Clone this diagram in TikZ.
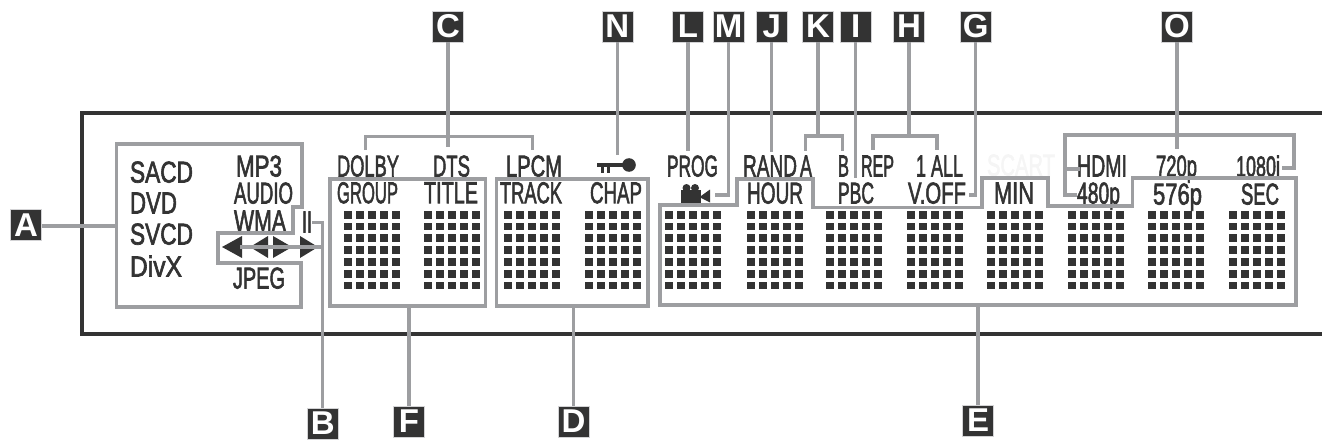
\documentclass[tikz,border=0pt]{standalone}
\usepackage{fontspec}
\setmainfont{Liberation Sans}
\newfontfamily\lcdface[FakeBold=2.4]{Liberation Sans}
\definecolor{ink}{HTML}{333333}
\definecolor{lead}{HTML}{9D9EA1}
\tikzset{
  panelline/.style={draw=ink,line width=3.6pt},
  guide/.style={draw=lead,line width=3.2pt,line join=miter},
  tagbox/.style={fill=ink,draw=lead!45,line width=0.6pt,minimum width=31pt,minimum height=31pt,inner sep=0pt,text=white,font=\bfseries\fontsize{33}{33}\selectfont},
  lcd/.style={inner sep=0pt,anchor=base,text=ink,font=\lcdface\fontsize{28}{28}\selectfont},
}
\newcommand{\lcdtext}[6][ink]{%
  \pgfmathsetmacro{\lcdw}{#4-#3}\pgfmathsetmacro{\lcdx}{(#3+#4)/2}\pgfmathsetmacro{\lcdy}{#5+10.5}%
  \node[lcd,text=#1] (#2) at (\lcdx,\lcdy) {\resizebox{\lcdw pt}{21pt}{#6}};}
\newcommand{\dotblock}[1]{%
  \foreach \ci in {0,...,4}{\foreach \ri in {0,...,6}{%
    \fill[ink] ({#1+\ci*12},{210.7+\ri*11.8}) rectangle +(7.8,7.8);}}}
\begin{document}
\begin{tikzpicture}[x=1pt,y=-1pt]
\useasboundingbox (0,0) rectangle (1322,441);
% display frame
\draw[panelline] (1322,113) -- (82,113) -- (82,334) -- (1322,334);
% dot matrix
\foreach \bx in {344,424.3,504,585,665,746.7,826,907.3,987.3,1068.3,1148.3,1229.3}{\dotblock{\bx}}
% texts
\lcdtext{sacd}{130}{193}{172}{SACD}
\lcdtext{dvd}{130}{177}{203}{DVD}
\lcdtext{svcd}{130}{193}{234}{SVCD}
\lcdtext{divx}{130}{182}{266}{DivX}
\lcdtext{mpthree}{236}{282}{166}{MP3}
\lcdtext{audio}{234}{293}{193}{AUDIO}
\lcdtext{wma}{234}{286}{221}{WMA}
\lcdtext{jpeg}{233}{285}{278}{JPEG}
\lcdtext{pause}{302}{312}{222}{II}
\lcdtext{dolby}{337}{399}{166}{DOLBY}
\lcdtext{dts}{433}{470}{166}{DTS}
\lcdtext{lpcm}{506}{562}{166}{LPCM}
\lcdtext{group}{337}{398}{192.7}{GROUP}
\lcdtext{title}{424}{478}{192.7}{TITLE}
\lcdtext{track}{500}{562}{192.7}{TRACK}
\lcdtext{chap}{590}{642}{192.7}{CHAP}
\lcdtext{prog}{667}{718}{166}{PROG}
\lcdtext{rand}{743}{797}{166}{RAND}
\lcdtext{la}{800}{812}{166}{A}
\lcdtext{lb}{838}{849}{166}{B}
\lcdtext{rep}{861}{894}{166}{REP}
\lcdtext{oneall}{916}{963}{166}{1 ALL}
\lcdtext{hour}{747}{803}{193}{HOUR}
\lcdtext{pbc}{838}{874}{193}{PBC}
\lcdtext{voff}{908}{966}{193}{V.OFF}
\lcdtext{min}{994}{1034}{193}{MIN}
\lcdtext[black!4]{scart}{987}{1055}{165}{SCART}
\lcdtext{hdmi}{1077}{1127}{166}{HDMI}
\lcdtext{p480}{1077}{1120}{193}{480p}
\lcdtext{p720}{1156}{1197}{166}{720p}
\lcdtext{i1080}{1236}{1280}{166}{1080i}
\lcdtext{p576}{1153}{1202}{194}{576p}
\lcdtext{sec}{1241}{1279}{194}{SEC}
% arrows of the transport group
\fill[ink] (222,247) -- (242,236) -- (242,258) -- cycle;
\fill[ink] (250,247) -- (268,236) -- (268,258) -- cycle;
\fill[ink] (292,247) -- (273,236) -- (273,258) -- cycle;
\fill[ink] (318,247) -- (300,236) -- (300,258) -- cycle;
% key
\fill[ink] (597,163) rectangle (625,167);
\fill[ink] (601,166) rectangle (604,173);
\fill[ink] (606.5,166) rectangle (609.5,173);
\fill[ink] (629,165) circle (6.8);
% camera
\fill[ink] (686.5,188) circle (4);
\fill[ink] (695,188) circle (4);
\fill[ink] (681,190) rectangle (701,202.5);
\fill[ink] (701,196) -- (710,189.5) -- (710,202.5) -- (701,198) -- cycle;
% framed areas
\draw[guide] (116.7,144) -- (302,144) -- (302,207) -- (293,207) -- (293,233) -- (218,233) -- (218,263) -- (301,263) -- (301,307) -- (116.7,307) -- cycle;
\draw[guide] (330,179) rectangle (485.7,306);
\draw[guide] (496.7,179) rectangle (648,306);
\draw[guide] (660,205) -- (737,205) -- (737,179) -- (813,179) -- (813,207.7) -- (982,207.7) -- (982,178) -- (1048,178) -- (1048,206) -- (1132.7,206) -- (1132.7,178) -- (1296,178) -- (1296,305) -- (660,305) -- cycle;
% tags
\node[tagbox] (tagA) at (26,225) {A};
\node[tagbox] (tagB) at (322.7,423.5) {B};
\node[tagbox] (tagF) at (409,421.5) {F};
\node[tagbox] (tagD) at (573.6,421.5) {D};
\node[tagbox] (tagE) at (978,420.5) {E};
\node[tagbox] (tagC) at (448,26.5) {C};
\node[tagbox] (tagN) at (617.3,26.5) {N};
\node[tagbox] (tagL) at (688,26.5) {L};
\node[tagbox] (tagM) at (728.7,26.5) {M};
\node[tagbox] (tagJ) at (771.7,26.5) {J};
\node[tagbox] (tagK) at (818,26.5) {K};
\node[tagbox] (tagI) at (855.7,26.5) {I};
\node[tagbox] (tagH) at (909,26.5) {H};
\node[tagbox] (tagG) at (975.7,26.5) {G};
\node[tagbox] (tagO) at (1177,26.5) {O};
% connector ends
\coordinate (endA) at (116.7,226);
\coordinate (endBpause) at (312,222.7);
\coordinate (cornerB) at (322.7,222.7);
\coordinate (endBarrow) at (240,247);
\coordinate (joinB) at (322.7,247);
\coordinate (endF) at (409,306);
\coordinate (endD) at (573.6,306);
\coordinate (endE) at (978,305);
\coordinate (endC) at (448,147);
\coordinate (endN) at (617.3,155);
\coordinate (endL) at (688,151);
\coordinate (cornerM) at (728.7,195);
\coordinate (endM) at (715,195);
\coordinate (endJ) at (771.7,152);
\coordinate (joinK) at (818,136);
\coordinate (endI) at (855.7,178);
\coordinate (joinH) at (909,136);
\coordinate (cornerG) at (975.7,195);
\coordinate (endG) at (969,195);
\coordinate (endO) at (1177,149);
% connectors
\draw[guide] (tagA.east |- endA) -- (endA);
\draw[guide] (tagB.north) -- (cornerB) -- (endBpause);
\draw[guide] (joinB) -- (endBarrow);
\draw[guide] (tagF.north) -- (endF);
\draw[guide] (tagD.north) -- (endD);
\draw[guide] (tagE.north) -- (endE);
\draw[guide] (tagC.south) -- (endC);
\draw[guide] (365.7,150) -- (365.7,136.7) -- (532.7,136.7) -- (532.7,150);
\draw[guide] (tagN.south) -- (endN);
\draw[guide] (tagL.south) -- (endL);
\draw[guide] (tagM.south) -- (cornerM) -- (endM);
\draw[guide] (tagJ.south) -- (endJ);
\draw[guide] (tagK.south) -- (joinK);
\draw[guide] (805.7,150.7) -- (805.7,136) -- (842.7,136) -- (842.7,150.7);
\draw[guide] (tagI.south) -- (endI);
\draw[guide] (tagH.south) -- (joinH);
\draw[guide] (873,150) -- (873,136) -- (937,136) -- (937,150);
\draw[guide] (tagG.south) -- (cornerG) -- (endG);
\draw[guide] (tagO.south) -- (endO);
\draw[guide] (1077,195) -- (1065,195) -- (1065,135) -- (1294,135) -- (1294,168) -- (1281.7,168);
\draw[guide] (1065,169) -- (1080,169);
\end{tikzpicture}
\end{document}
